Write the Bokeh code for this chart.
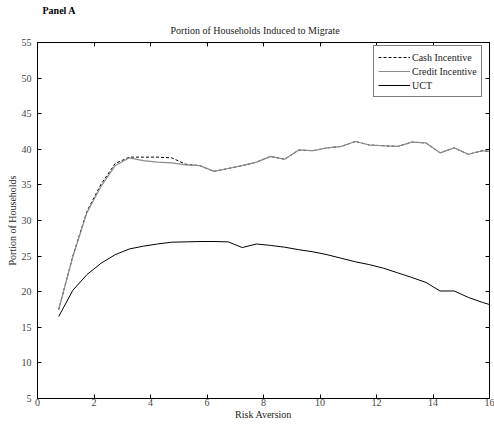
from bokeh.plotting import figure
from bokeh.models import Legend, LegendItem, LinearAxis, FixedTicker, Title, Range1d
from bokeh.embed import file_html
from bokeh.resources import INLINE

risk_aversion = [0.75, 1.25, 1.75, 2.25, 2.75, 3.25, 3.75, 4.25, 4.75, 5.25, 5.75, 6.25,
                 6.75, 7.25, 7.75, 8.25, 8.75, 9.25, 9.75, 10.25, 10.75, 11.25, 11.75,
                 12.25, 12.75, 13.25, 13.75, 14.25, 14.75, 15.25, 15.75, 16.0]
cash_incentive = [17.5, 25.0, 31.3, 35.1, 38.0, 38.9, 38.9, 38.9, 38.8, 37.9, 37.7, 36.9,
                  37.3, 37.7, 38.2, 39.0, 38.6, 39.9, 39.8, 40.2, 40.4, 41.1, 40.6,
                  40.5, 40.4, 41.0, 40.9, 39.5, 40.2, 39.3, 39.8, 39.7]
credit_incentive = [17.5, 24.9, 31.1, 34.8, 37.7, 38.8, 38.4, 38.2, 38.1, 37.8, 37.7, 36.9,
                    37.3, 37.7, 38.2, 39.0, 38.6, 39.9, 39.8, 40.2, 40.4, 41.1, 40.6,
                    40.5, 40.4, 41.0, 40.9, 39.5, 40.2, 39.3, 39.8, 39.7]
uct = [16.5, 20.2, 22.4, 24.0, 25.2, 26.0, 26.4, 26.7, 26.95, 27.0, 27.05, 27.05,
       27.0, 26.2, 26.7, 26.5, 26.25, 25.9, 25.6, 25.2, 24.7, 24.2, 23.8,
       23.3, 22.65, 22.0, 21.3, 20.1, 20.1, 19.2, 18.5, 18.2]

x_ticks = [0, 2, 4, 6, 8, 10, 12, 14, 16]
y_ticks = [5, 10, 15, 20, 25, 30, 35, 40, 45, 50, 55]

FONT = "Liberation Serif"

p = figure(width=494, height=425, output_backend="svg", toolbar_location=None, title=None,
           x_range=Range1d(0, 16), y_range=Range1d(5, 55),
           min_border_left=37, min_border_right=5, min_border_top=42, min_border_bottom=27,
           background_fill_color="white", border_fill_color="white")

p.xgrid.visible = False
p.ygrid.visible = False
p.outline_line_color = "black"
p.outline_line_width = 1

for ax, lbl, ticks in ((p.xaxis[0], "Risk Aversion", x_ticks), (p.yaxis[0], "Portion of Households", y_ticks)):
    ax.ticker = FixedTicker(ticks=ticks)
    ax.axis_label = lbl
    ax.axis_label_text_font = FONT
    ax.axis_label_text_font_size = "10px"
    ax.axis_label_text_font_style = "normal"
    ax.axis_label_text_color = "#222222"
    ax.major_label_text_font = FONT
    ax.major_label_text_font_size = "10px"
    ax.major_label_text_color = "#444444"
    ax.major_tick_in = 4
    ax.major_tick_out = 0
    ax.minor_tick_line_color = None
    ax.axis_line_color = "black"
    ax.major_tick_line_color = "black"

p.xaxis.major_label_standoff = 0
p.xaxis.axis_label_standoff = 0
p.yaxis.major_label_standoff = 6
p.yaxis.axis_label_standoff = 1

top_ax = LinearAxis(ticker=FixedTicker(ticks=x_ticks),
                    major_label_overrides={t: "" for t in x_ticks},
                    major_label_text_color=None, major_label_text_font_size="1px",
                    major_tick_in=4, major_tick_out=0, minor_tick_line_color=None,
                    major_label_standoff=0)
right_ax = LinearAxis(ticker=FixedTicker(ticks=y_ticks),
                      major_label_overrides={t: "" for t in y_ticks},
                      major_label_text_color=None, major_label_text_font_size="1px",
                      major_tick_in=4, major_tick_out=0, minor_tick_line_color=None,
                      major_label_standoff=0)
p.add_layout(top_ax, "above")
p.add_layout(right_ax, "right")

main_title = Title(text="Portion of Households Induced to Migrate", align="left", offset=133,
                   text_font=FONT, text_font_size="10px", text_font_style="normal",
                   text_color="#222222", standoff=13)
panel_title = Title(text="Panel A", align="left", offset=5, text_font=FONT,
                    text_font_size="10px", text_font_style="bold", text_color="black",
                    standoff=1)
p.add_layout(main_title, "above")
p.add_layout(panel_title, "above")

r_cash = p.line(risk_aversion, cash_incentive, line_color="black", line_width=1, line_dash="3 2")
r_credit = p.line(risk_aversion, credit_incentive, line_color="#8c8c8c", line_width=1.2)
r_uct = p.line(risk_aversion, uct, line_color="black", line_width=1)

legend = Legend(items=[LegendItem(label="Cash Incentive", renderers=[r_cash]),
                       LegendItem(label="Credit Incentive", renderers=[r_credit]),
                       LegendItem(label="UCT", renderers=[r_uct])],
                location=(336, 301), margin=0, padding=4, spacing=0,
                label_height=14, glyph_height=14, glyph_width=32, label_standoff=2,
                label_text_font=FONT, label_text_font_size="10px", label_text_color="#222222",
                border_line_color="black", border_line_width=1,
                background_fill_color="white", background_fill_alpha=1)
p.add_layout(legend, "center")

open("out.html", "w").write(file_html(p, INLINE))
